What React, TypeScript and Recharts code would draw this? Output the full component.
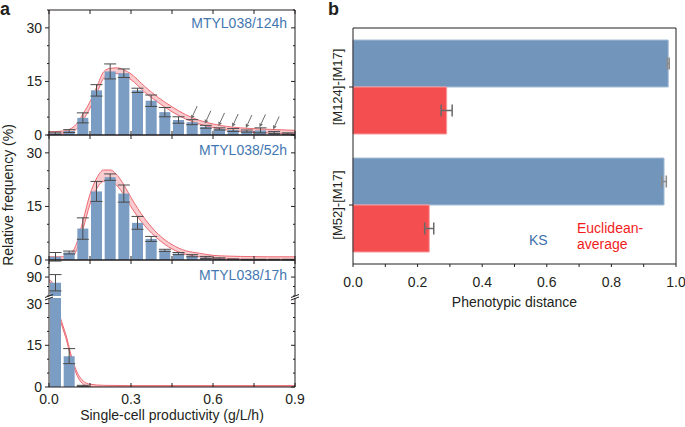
import {
  ComposedChart,
  BarChart,
  Bar,
  Area,
  XAxis,
  YAxis,
  ErrorBar,
  LabelList,
} from 'recharts'

const FONT = '"Liberation Sans", Arial, Helvetica, sans-serif'
const INK = '#231f20'
const BAR_BLUE = '#7b9cc3'
const BAND_LINE = '#ec6a72'
const BAND_FILL = '#f26b74'
const NAME_BLUE = '#4477b1'

// ---- panel a: histograms (bin centres, g/L/h) ----
const binX = [
  0.025, 0.075, 0.125, 0.175, 0.225, 0.275, 0.325, 0.375, 0.425, 0.475, 0.525,
  0.575, 0.625, 0.675, 0.725, 0.775, 0.825, 0.875,
]
const xTicksA = [0, 0.15, 0.3, 0.45, 0.6, 0.75, 0.9]

const freq124 = [0.5, 1.1, 4.8, 12.5, 17.8, 17.3, 12.5, 9.6, 6.4, 4.2, 3.6, 2.3, 1.7, 1.4, 1.1, 1.3, 0.7, 0.4]
const err124 = [0.3, 0.4, 1.4, 1.6, 2.1, 1.2, 0.6, 1.6, 1.3, 0.9, 0.7, 0.4, 0.3, 0.4, 0.3, 0.7, 0.3, 0.2]
const arrow124 = [0, 0, 0, 0, 0, 0, 0, 0, 0, 0, 1, 1, 1, 1, 1, 1, 1, 0]

const freq52 = [0.9, 2.1, 8.8, 19.2, 23.2, 18.6, 10.4, 5.9, 2.7, 1.8, 1.2, 0.7, 0.4, 0.2, 0.1, 0.1, 0.1, 0.1]
const err52 = [1.2, 0.4, 3.0, 2.8, 0.9, 2.4, 1.8, 0.7, 0.3, 0.3, 0.3, 0.3, 0.2, 0.1, 0.1, 0.1, 0.1, 0.1]

const freq17 = [87, 11.1, 0.4, 0, 0, 0, 0, 0, 0, 0, 0, 0, 0, 0, 0, 0, 0, 0]
const err17 = [4.3, 2.7, 0.2, 0, 0, 0, 0, 0, 0, 0, 0, 0, 0, 0, 0, 0, 0, 0]

// fitted curves with confidence band
const fitX = [0, 0.05, 0.075, 0.1, 0.125, 0.15, 0.175, 0.2, 0.225, 0.25, 0.275, 0.3, 0.35, 0.4, 0.45, 0.5, 0.55, 0.6, 0.65, 0.7, 0.8, 0.9]
const fit124Lo = [0.1, 0.3, 0.6, 1.6, 4.2, 7.5, 11.7, 15.9, 17.1, 17.2, 16.6, 15.5, 12.0, 9.1, 6.5, 4.5, 3.1, 2.1, 1.4, 1.0, 0.6, 0.3]
const fit124Hi = [0.9, 1.1, 1.6, 3.0, 6.0, 9.3, 13.5, 17.7, 18.7, 18.8, 18.2, 17.1, 13.6, 10.5, 7.9, 5.7, 4.1, 3.1, 2.4, 2.0, 1.6, 1.3]
const fit52Lo = [0.1, 0.1, 0.5, 2.6, 8.8, 15.6, 20.0, 22.0, 22.0, 20.7, 18.1, 14.9, 9.6, 5.8, 3.1, 1.6, 0.9, 0.5, 0.3, 0.2, 0.1, 0.1]
const fit52Hi = [0.9, 0.9, 1.5, 4.4, 11.2, 18.4, 23.0, 25.2, 25.2, 23.7, 20.9, 17.5, 11.6, 7.2, 4.3, 2.6, 1.9, 1.3, 1.1, 1.0, 0.9, 0.9]

const fitX17 = [0, 0.01, 0.018, 0.023, 0.028, 0.046, 0.065, 0.077, 0.089, 0.107, 0.126, 0.15, 0.2, 0.3, 0.6, 0.9]
const fit17Lo = [87.4, 86.4, 79.4, 30.9, 28.4, 22.4, 16.5, 11.7, 7.6, 3.3, 0.9, 0, 0, 0, 0, 0]
const fit17Hi = [88.6, 87.6, 80.6, 32.1, 29.6, 23.6, 17.7, 12.9, 8.8, 4.5, 2.1, 1.0, 0.6, 0.5, 0.5, 0.5]

const yTicks35 = [0, 5, 10, 15, 20, 25, 30, 35]
const yTicks17Low = [0, 5, 10, 15, 20, 25, 30]
const yTicks17High = [80, 85, 90, 95]

// ---- panel b: phenotypic distance ----
const pairs = ['[M124]-[M17]', '[M52]-[M17]']
const ksDist = [0.976, 0.963]
const ksErr = [0.003, 0.007]
const euDist = [0.29, 0.236]
const euErr = [0.017, 0.014]
const xTicksB = [0, 0.1, 0.2, 0.3, 0.4, 0.5, 0.6, 0.7, 0.8, 0.9, 1.0]

const histRows = (vals: (number | null)[], errs: number[], arrows?: number[]) =>
  binX.map((x, i) => ({ x, v: vals[i], err: errs[i], arrow: arrows ? arrows[i] : 0 }))
const bandRows = (xs: number[], lo: number[], hi: number[]) =>
  xs.map((x, i) => ({ x, band: [lo[i], hi[i]] }))

const distRows = pairs.map((name, i) => ({
  name,
  ks: ksDist[i],
  ksErr: ksErr[i],
  eu: euDist[i],
  euErr: euErr[i],
}))

// ---- tick renderers (tickSize/tickMargin 0 so x/y sit on the axis line) ----
const isMajorX = (v: number) => Math.abs(v / 0.3 - Math.round(v / 0.3)) < 1e-6

const bottomTick = (labels: boolean) => (p: any) => {
  const { x, y, payload } = p
  const v = payload.value
  return (
    <g>
      <line x1={x} x2={x} y1={y} y2={y - 4} stroke={INK} />
      {labels && isMajorX(v) && (
        <text x={x} y={y + 17} textAnchor='middle' fontSize={14} fill={INK}>
          {v.toFixed(1)}
        </text>
      )}
    </g>
  )
}

const topTick = (p: any) => (
  <line x1={p.x} x2={p.x} y1={p.y} y2={p.y + 4} stroke={INK} />
)

const leftTick = (isMajor: (v: number) => boolean) => (p: any) => {
  const { x, y, payload } = p
  const m = isMajor(payload.value)
  return (
    <g>
      <line x1={x} x2={x - (m ? 4 : 2)} y1={y} y2={y} stroke={INK} />
      {m && (
        <text x={x - 7} y={y} dy='0.36em' textAnchor='end' fontSize={14} fill={INK}>
          {payload.value}
        </text>
      )}
    </g>
  )
}

const rightTick = (isMajor: (v: number) => boolean) => (p: any) => {
  const { x, y, payload } = p
  const m = isMajor(payload.value)
  return <line x1={x} x2={x - (m ? 4 : 2)} y1={y} y2={y} stroke={INK} />
}

const renderArrow = (p: any) => {
  if (!p.value) return null
  const cx = p.x + p.width / 2
  const tx = cx - 1
  const ty = p.y - 3
  const sx = cx + 5
  const sy = p.y - 16
  const dx = tx - sx
  const dy = ty - sy
  const len = Math.hypot(dx, dy)
  const ux = dx / len
  const uy = dy / len
  const bx = tx - ux * 4
  const by = ty - uy * 4
  return (
    <g>
      <line x1={sx} y1={sy} x2={bx} y2={by} stroke='#6d6d6d' strokeWidth={1} />
      <polygon
        points={`${tx},${ty} ${bx - uy * 2},${by + ux * 2} ${bx + uy * 2},${by - ux * 2}`}
        fill='#6d6d6d'
      />
    </g>
  )
}

type PanelProps = {
  plotTop: number
  plotH: number
  rows: ReturnType<typeof histRows>
  band: ReturnType<typeof bandRows>
  domain: [number, number]
  yTicks: number[]
  isMajor: (v: number) => boolean
  frameTop?: boolean
  frameBottom?: boolean
  xLabels?: boolean
  arrows?: boolean
}

const HistPanel = (p: PanelProps) => {
  const topH = p.frameTop ? 10 : 0
  const padT = p.frameTop ? 0 : 8
  const botH = p.frameBottom ? (p.xLabels ? 40 : 5) : 0
  const padB = p.xLabels ? 0 : 8
  return (
    <div style={{ position: 'absolute', left: 0, top: p.plotTop - topH - padT }}>
      <ComposedChart
        width={310}
        height={padT + topH + p.plotH + botH + padB}
        data={p.rows}
        margin={{ top: padT, right: 10, bottom: padB, left: 0 }}
      >
        <XAxis
          dataKey='x'
          type='number'
          domain={[0, 0.9]}
          ticks={xTicksA}
          interval={0}
          height={botH}
          hide={!p.frameBottom}
          tickSize={0}
          tickMargin={0}
          tickLine={false}
          tick={bottomTick(!!p.xLabels)}
          stroke={INK}
          label={
            p.xLabels
              ? { value: 'Single-cell productivity (g/L/h)', position: 'insideBottom', offset: 7, fontSize: 14, fill: INK }
              : undefined
          }
        />
        <XAxis
          xAxisId='top'
          orientation='top'
          dataKey='x'
          type='number'
          domain={[0, 0.9]}
          ticks={xTicksA}
          interval={0}
          height={topH}
          hide={!p.frameTop}
          tickSize={0}
          tickMargin={0}
          tickLine={false}
          tick={topTick}
          stroke={INK}
        />
        <YAxis
          type='number'
          domain={p.domain}
          ticks={p.yTicks}
          interval={0}
          width={49}
          tickSize={0}
          tickMargin={0}
          tickLine={false}
          tick={leftTick(p.isMajor)}
          allowDataOverflow
          stroke={INK}
        />
        <YAxis
          yAxisId='r'
          orientation='right'
          type='number'
          domain={p.domain}
          ticks={p.yTicks}
          interval={0}
          width={5}
          tickSize={0}
          tickMargin={0}
          tickLine={false}
          tick={rightTick(p.isMajor)}
          allowDataOverflow
          stroke={INK}
        />
        <Bar dataKey='v' fill={BAR_BLUE} barSize={11} isAnimationActive={false}>
          <ErrorBar dataKey='err' direction='y' width={6} stroke='#4a4a4a' strokeWidth={1} />
          {p.arrows && <LabelList dataKey='arrow' content={renderArrow} />}
        </Bar>
        <Area
          xAxisId='top'
          data={p.band}
          dataKey='band'
          type='monotone'
          stroke={BAND_LINE}
          strokeWidth={1}
          fill={BAND_FILL}
          fillOpacity={0.35}
          dot={false}
          activeDot={false}
          isAnimationActive={false}
        />
      </ComposedChart>
    </div>
  )
}

const bTick = (p: any) => {
  const { x, y, payload } = p
  const v = payload.value
  const major = Math.round(v * 10) % 2 === 0
  return (
    <g>
      <line x1={x} x2={x} y1={y} y2={y + 3} stroke={INK} />
      {major && (
        <text x={x} y={y + 23} textAnchor='middle' fontSize={14} fill={INK}>
          {v.toFixed(1)}
        </text>
      )}
    </g>
  )
}

const catTick = (p: any) => {
  const { x, y, payload } = p
  const tx = x - 16
  return (
    <g>
      <line x1={x} x2={x - 4} y1={y} y2={y} stroke={INK} />
      <text
        x={tx}
        y={y}
        dy='0.36em'
        transform={`rotate(-90 ${tx} ${y})`}
        textAnchor='middle'
        fontSize={13}
        fill={INK}
      >
        {payload.value}
      </text>
    </g>
  )
}

const major15 = (v: number) => v % 15 === 0
const major90 = (v: number) => v === 90

const App = () => {
  return (
    <div
      style={{
        position: 'absolute',
        left: 0,
        top: 0,
        width: 685,
        height: 427,
        background: '#fff',
        fontFamily: FONT,
      }}
    >
      <HistPanel
        plotTop={10}
        plotH={125}
        rows={histRows(freq124, err124, arrow124)}
        band={bandRows(fitX, fit124Lo, fit124Hi)}
        domain={[0, 35]}
        yTicks={yTicks35}
        isMajor={major15}
        frameTop
        frameBottom
        arrows
      />
      <HistPanel
        plotTop={135}
        plotH={125}
        rows={histRows(freq52, err52)}
        band={bandRows(fitX, fit52Lo, fit52Hi)}
        domain={[0, 35]}
        yTicks={yTicks35}
        isMajor={major15}
        frameTop
        frameBottom
      />
      <HistPanel
        plotTop={260}
        plotH={36}
        rows={histRows(freq17.map((v) => (v > 80 ? v : null)), err17)}
        band={bandRows(fitX17, fit17Lo, fit17Hi)}
        domain={[80, 99]}
        yTicks={yTicks17High}
        isMajor={major90}
        frameTop
      />
      <HistPanel
        plotTop={298}
        plotH={89}
        rows={histRows(freq17, err17)}
        band={bandRows(fitX17, fit17Lo, fit17Hi)}
        domain={[0, 32]}
        yTicks={yTicks17Low}
        isMajor={major15}
        frameBottom
        xLabels
      />

      <div style={{ position: 'absolute', left: 320, top: 0 }}>
        <BarChart
          layout='vertical'
          width={365}
          height={427}
          data={distRows}
          margin={{ top: 0, right: 4, bottom: 0, left: 0 }}
          barSize={47}
          barGap={0}
        >
          <XAxis
            type='number'
            domain={[0, 1]}
            ticks={xTicksB}
            interval={0}
            height={163}
            tickSize={0}
            tickMargin={0}
            tickLine={false}
            tick={bTick}
            stroke={INK}
            label={{ value: 'Phenotypic distance', position: 'insideTop', offset: 33, fontSize: 14, fill: INK }}
          />
          <XAxis
            xAxisId='top'
            orientation='top'
            type='number'
            domain={[0, 1]}
            height={28}
            tick={false}
            tickLine={false}
            stroke={INK}
          />
          <YAxis
            type='category'
            dataKey='name'
            width={33}
            tickSize={0}
            tickMargin={0}
            tickLine={false}
            tick={catTick}
            stroke={INK}
          />
          <YAxis
            yAxisId='r'
            orientation='right'
            type='number'
            domain={[0, 1]}
            width={5}
            tick={false}
            tickLine={false}
            stroke={INK}
          />
          <Bar dataKey='ks' fill='#7195bb' stroke='#a7bdd7' isAnimationActive={false}>
            <ErrorBar dataKey='ksErr' direction='x' width={6} stroke='#8a8a8a' />
          </Bar>
          <Bar dataKey='eu' fill='#f44e51' stroke='#f79a9b' isAnimationActive={false}>
            <ErrorBar dataKey='euErr' direction='x' width={6} stroke='#6a6a6a' />
          </Bar>
        </BarChart>
      </div>

      <svg
        width={685}
        height={427}
        style={{ position: 'absolute', left: 0, top: 0, pointerEvents: 'none' }}
      >
        <text x={0} y={15} fontSize={18} fontWeight='bold' fill={INK}>a</text>
        <text x={328} y={15} fontSize={18} fontWeight='bold' fill={INK}>b</text>
        <text
          transform='translate(13,195) rotate(-90)'
          textAnchor='middle'
          fontSize={14}
          fill={INK}
        >
          Relative frequency (%)
        </text>
        <text x={287} y={28} textAnchor='end' fontSize={14} fill={NAME_BLUE}>MTYL038/124h</text>
        <text x={287} y={155} textAnchor='end' fontSize={14} fill={NAME_BLUE}>MTYL038/52h</text>
        <text x={287} y={280} textAnchor='end' fontSize={14} fill={NAME_BLUE}>MTYL038/17h</text>
        <text x={529} y={245} fontSize={14} fill='#3e70ad'>KS</text>
        <text x={577} y={233} fontSize={14} fill='#f21c1c'>Euclidean-</text>
        <text x={577} y={249} fontSize={14} fill='#f21c1c'>average</text>
        <g stroke={INK} strokeWidth={1}>
          <line x1={45} y1={297.5} x2={53} y2={294.5} />
          <line x1={45} y1={300} x2={53} y2={297} />
          <line x1={291} y1={297.5} x2={299} y2={294.5} />
          <line x1={291} y1={300} x2={299} y2={297} />
        </g>
      </svg>
    </div>
  )
}

export default App
